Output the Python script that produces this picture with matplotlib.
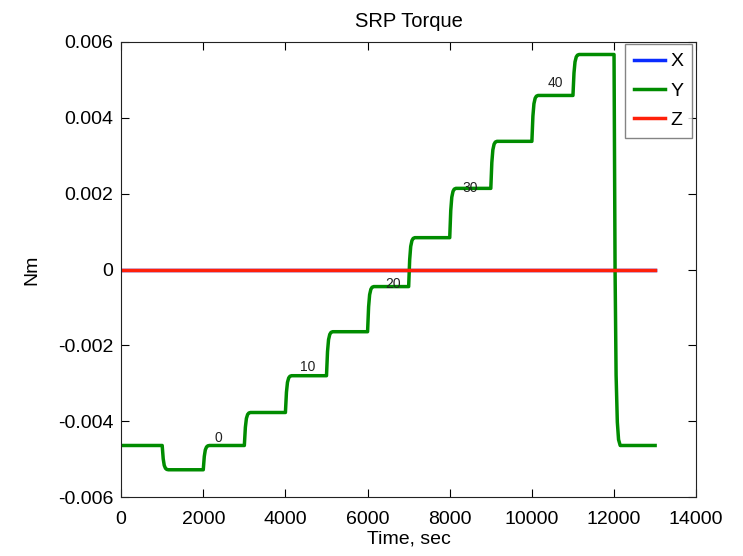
import numpy as np
import matplotlib
matplotlib.use("Agg")
import matplotlib.pyplot as plt

plt.rcParams['font.family'] = ['Liberation Sans', 'DejaVu Sans']

# --- data ---
step_times = [0, 1000, 2000, 3000, 4000, 5000, 6000, 7000, 8000, 9000, 10000, 11000, 12000, 13000]
y_levels = [-0.00464, -0.00528, -0.00464, -0.00377, -0.00280, -0.00164, -0.00045,
            0.00084, 0.00214, 0.00338, 0.00459, 0.00567, -0.00464]
x_levels = [0.0] * len(y_levels)
z_levels = [0.0] * len(y_levels)

label_texts = ["0", "10", "20", "30", "40"]
label_x = [2360, 4550, 6620, 8500, 10570]
label_y = [-0.00443, -0.00256, -0.00038, 0.00215, 0.00493]

# transition shape (style): time offsets and fraction of change completed
trans_dt = [0, 25, 50, 80, 110, 150]
trans_frac = [0.0, 0.55, 0.82, 0.94, 0.985, 1.0]


def build(levels):
    t = [step_times[0]]
    v = [levels[0]]
    for i in range(1, len(levels)):
        t0 = step_times[i]
        a, b = levels[i - 1], levels[i]
        for dt, f in zip(trans_dt, trans_frac):
            t.append(t0 + dt)
            v.append(a + (b - a) * f)
    t.append(step_times[-1])
    v.append(levels[-1])
    return np.array(t), np.array(v)


fig = plt.figure(figsize=(7.43, 5.56), dpi=100)
ax = fig.add_axes([0.163, 0.106, 0.774, 0.8185])

tx, vx = build(x_levels)
ty, vy = build(y_levels)
tz, vz = build(z_levels)
ax.plot(tx, vx, color='#0a2cff', lw=2.5, label='X')
ax.plot(ty, vy, color='#008c00', lw=2.5, label='Y')
ax.plot(tz, vz, color='#ff200a', lw=2.5, label='Z')

for s, xx, yy in zip(label_texts, label_x, label_y):
    ax.text(xx, yy, s, fontsize=10, ha='center', va='center', color='#222222')

ax.set_xlim(0, 14000)
ax.set_ylim(-0.006, 0.006)
ax.set_xticks(np.arange(0, 14001, 2000))
ax.set_yticks([-0.006, -0.004, -0.002, 0, 0.002, 0.004, 0.006])
ax.set_yticklabels(['-0.006', '-0.004', '-0.002', '0', '0.002', '0.004', '0.006'])
ax.tick_params(direction='in', top=True, right=True, labelsize=14, length=6, width=0.8)
ax.tick_params(axis='x', pad=10)
ax.tick_params(axis='y', pad=5.5)
for sp in ax.spines.values():
    sp.set_linewidth(0.8)
    sp.set_color('#222222')

ax.set_title('SRP Torque', fontsize=14.5, pad=11)
ax.set_xlabel('Time, sec', fontsize=14, labelpad=2)
ax.set_ylabel('Nm', fontsize=14, labelpad=13)

leg = ax.legend(loc='upper right', bbox_to_anchor=(0.993, 0.9956), fontsize=14,
                frameon=True, fancybox=False,
                handlelength=1.6, handletextpad=0.26, borderpad=0.45, labelspacing=0.6,
                borderaxespad=0.0)
leg.get_frame().set_edgecolor('#666666')
leg.get_frame().set_linewidth(1.0)

fig.savefig('out.png', dpi=100)
